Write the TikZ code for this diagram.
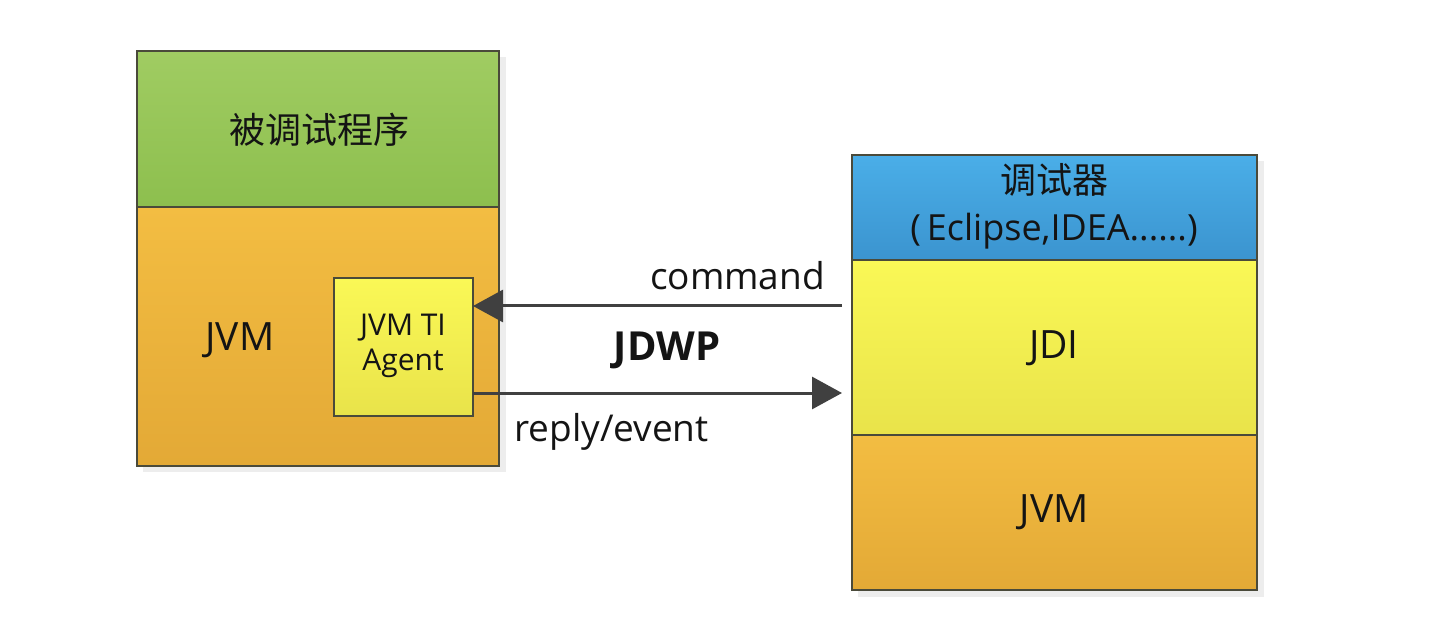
\documentclass[tikz,border=0pt]{standalone}
\usepackage{fontspec}
\setmainfont{Open Sans}
\newfontfamily\cjk{Noto Sans CJK SC}
\usetikzlibrary{arrows.meta}
\definecolor{bordc}{HTML}{4A4A3A}
\definecolor{greenT}{HTML}{A0CC62}
\definecolor{greenB}{HTML}{8DBF4E}
\definecolor{orT}{HTML}{F3BD42}
\definecolor{orB}{HTML}{E3A936}
\definecolor{yeT}{HTML}{FAF856}
\definecolor{yeB}{HTML}{E9E34A}
\definecolor{blT}{HTML}{4AAEE8}
\definecolor{blB}{HTML}{3B94CF}
\definecolor{arrc}{HTML}{404040}
\definecolor{txtc}{HTML}{141414}
\tikzset{
  layer/.style={draw=bordc, line width=1.4pt, inner sep=0pt, outer sep=0pt, anchor=north west},
  arr/.style={draw=arrc, line width=3pt, -{Triangle[length=30pt,width=32pt]}},
  lbl/.style={font=\fontsize{37}{44}\selectfont, inner sep=0pt, text=txtc}
}
\begin{document}
\begin{tikzpicture}[x=1pt,y=-1pt]
\useasboundingbox[fill=white] (0,0) rectangle (1432,636);
% shadows
\fill[black!7] (143,57) rectangle (506,472);
\fill[black!7] (858,161) rectangle (1264,597);
% left stack
\node[layer, top color=greenT, bottom color=greenB, minimum width=362pt, minimum height=156pt] (prog) at (137,51) {};
\node[lbl, font=\cjk\fontsize{36}{40}\selectfont] (progtxt) at (319,130) {被调试程序};
\node[layer, top color=orT, bottom color=orB, minimum width=362pt, minimum height=259pt] (ljvm) at (137,207) {};
\node[lbl, font=\fontsize{39}{44}\selectfont] (ljvmtxt) at (240,340) {JVM};
\node[layer, top color=yeT, bottom color=yeB, minimum width=139pt, minimum height=138pt] (agent) at (334,278) {};
\node[lbl, font=\fontsize{30}{35}\selectfont, align=center] (agenttxt) at (403,346) {JVM TI\\Agent};
% right stack
\node[layer, top color=blT, bottom color=blB, minimum width=405pt, minimum height=105pt] (dbg) at (852,155) {};
\node[lbl, align=center, font=\fontsize{36}{47}\selectfont] (dbgtxt) at (1054,206) {{\cjk 调试器}\\(\,Eclipse,IDEA......)};
\node[layer, top color=yeT, bottom color=yeB, minimum width=405pt, minimum height=175pt] (jdi) at (852,260) {};
\node[lbl, font=\fontsize{39}{44}\selectfont] (jditxt) at (1054,348) {JDI};
\node[layer, top color=orT, bottom color=orB, minimum width=405pt, minimum height=155pt] (rjvm) at (852,435) {};
\node[lbl, font=\fontsize{39}{44}\selectfont] (rjvmtxt) at (1054,512) {JVM};
% arrows
\coordinate (cmdstart) at (842,306);
\coordinate (repend) at (842,393);
\draw[arr] (cmdstart) -- (agent.east |- cmdstart);
\draw[arr] (agent.east |- repend) -- (repend);
% labels
\node[lbl, anchor=east] (cmd) at (825,276) {command};
\node[lbl, font=\bfseries\fontsize{40}{44}\selectfont] (jdwp) at (667,350) {JDWP};
\node[lbl, anchor=west] (rep) at (514,432) {reply/event};
\end{tikzpicture}
\end{document}
